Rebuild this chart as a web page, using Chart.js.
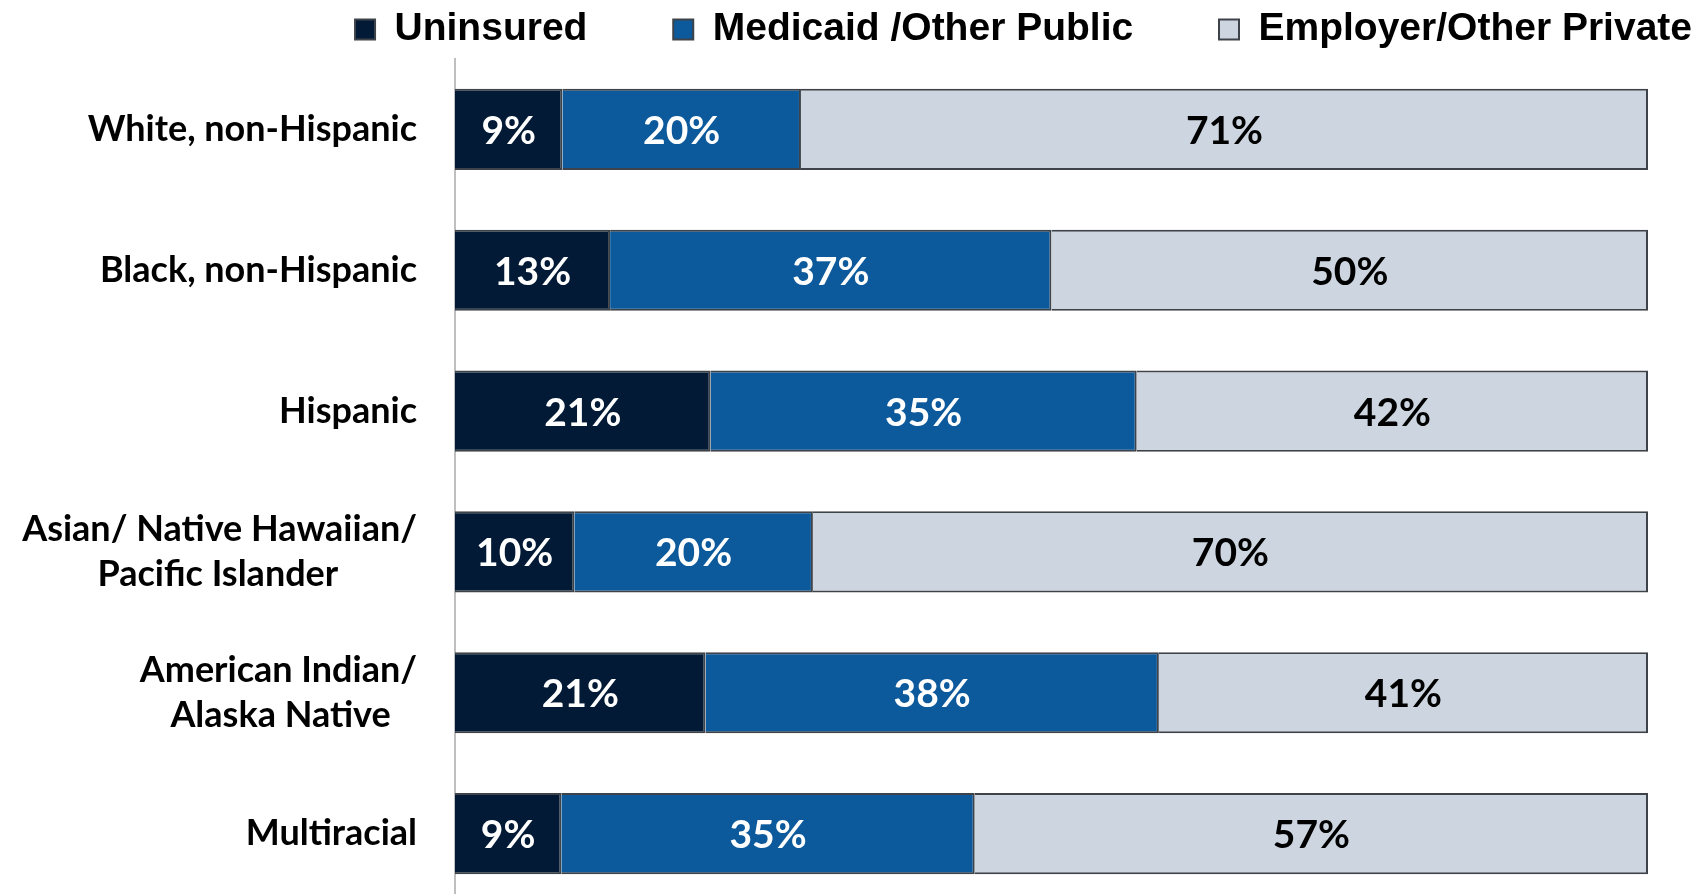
<!DOCTYPE html>
<html>
<head>
<meta charset="utf-8">
<script src="https://cdn.jsdelivr.net/npm/chart.js@4.4.0/dist/chart.umd.min.js"></script>
<style>
  html, body { margin: 0; padding: 0; background: #fff; overflow: hidden; }
  canvas { display: block; }
</style>
</head>
<body>
<canvas id="grafico" width="1698" height="904"></canvas>
<script>
// data
const categories = [
    'White, non-Hispanic',
    'Black, non-Hispanic',
    'Hispanic',
    ['Asian/ Native Hawaiian/', 'Pacific Islander'],
    ['American Indian/', 'Alaska Native'],
    'Multiracial'
];
const seriesNames = ['Uninsured', 'Medicaid /Other Public', 'Employer/Other Private'];
const uninsured = [9, 13, 21, 10, 21, 9];
const medicaid = [20, 37, 35, 20, 38, 35];
const privateCov = [71, 50, 42, 70, 41, 57];

const fillColors = ['#021a35', '#0c599b', '#cdd6e0'];
const labelColors = ['#ffffff', '#ffffff', '#000000'];
const tickFont = { family: 'Lato', weight: 'bold', size: 36, lineHeight: 1.25 };

// 100% stacked: each row is scaled to its own total
const allSeries = [uninsured, medicaid, privateCov];
const rowTotals = categories.map((c, i) => allSeries.reduce((s, arr) => s + arr[i], 0));

// center the lines of multi-line labels inside their right-aligned block
function padLabel(label) {
    if (!Array.isArray(label)) return label;
    const ctx = document.createElement('canvas').getContext('2d');
    ctx.font = `bold ${tickFont.size}px Lato`;
    const widths = label.map(l => ctx.measureText(l).width);
    const maxW = Math.max(...widths);
    const spaceW = ctx.measureText(' ').width;
    return label.map((l, i) => l + ' '.repeat(Math.round((maxW - widths[i]) / 2 / spaceW)));
}

const valueLabels = {
    id: 'valueLabels',
    afterDatasetsDraw(chart) {
        const ctx = chart.ctx;
        ctx.save();
        ctx.font = 'bold 39px Lato';
        ctx.textAlign = 'center';
        ctx.textBaseline = 'middle';
        chart.data.datasets.forEach((ds, i) => {
            chart.getDatasetMeta(i).data.forEach((bar, j) => {
                const p = bar.getCenterPoint();
                ctx.fillStyle = labelColors[i];
                ctx.fillText(allSeries[i][j] + '%', p.x, p.y + 2);
            });
        });
        ctx.restore();
    }
};

document.fonts.load('bold 36px Lato').then(() => {
    const ctx = document.getElementById('grafico').getContext('2d');
    new Chart(ctx, {
        type: 'bar',
        data: {
            labels: categories.map(padLabel),
            datasets: allSeries.map((arr, i) => ({
                label: seriesNames[i],
                data: arr.map((v, j) => v / rowTotals[j] * 100),
                backgroundColor: fillColors[i],
                borderColor: '#3e434a',
                borderWidth: 2,
                categoryPercentage: 1,
                barPercentage: 0.576
            }))
        },
        options: {
            indexAxis: 'y',
            responsive: false,
            animation: false,
            layout: { padding: { top: 0, right: -4, bottom: 0, left: 0 } },
            scales: {
                x: { stacked: true, min: 0, max: 100, display: false },
                y: {
                    stacked: true,
                    grid: { display: false, drawTicks: false },
                    border: { display: true, color: '#bfbfbf', width: 2 },
                    ticks: { color: '#000', font: tickFont, padding: 38 },
                    afterFit: s => {
                        s.width = 455;
                        s.paddingTop = 0;
                        s.paddingBottom = 0;
                    }
                },
                yRight: {
                    position: 'right',
                    grid: { display: false, drawTicks: false },
                    border: { display: false },
                    ticks: { display: false },
                    afterFit: s => { s.width = 54; }
                }
            },
            plugins: {
                legend: {
                    position: 'top',
                    align: 'end',
                    labels: {
                        color: '#000',
                        font: { family: 'Liberation Sans', weight: 'bold', size: 39 },
                        boxWidth: 20,
                        boxHeight: 20,
                        padding: 10,
                        generateLabels: chart => {
                            const items = Chart.defaults.plugins.legend.labels.generateLabels(chart);
                            items.forEach((it, i) => {
                                if (i < items.length - 1) it.text = it.text + ' '.repeat(7);
                            });
                            return items;
                        }
                    }
                },
                tooltip: { enabled: false }
            }
        },
        plugins: [valueLabels]
    });
});
</script>
</body>
</html>
